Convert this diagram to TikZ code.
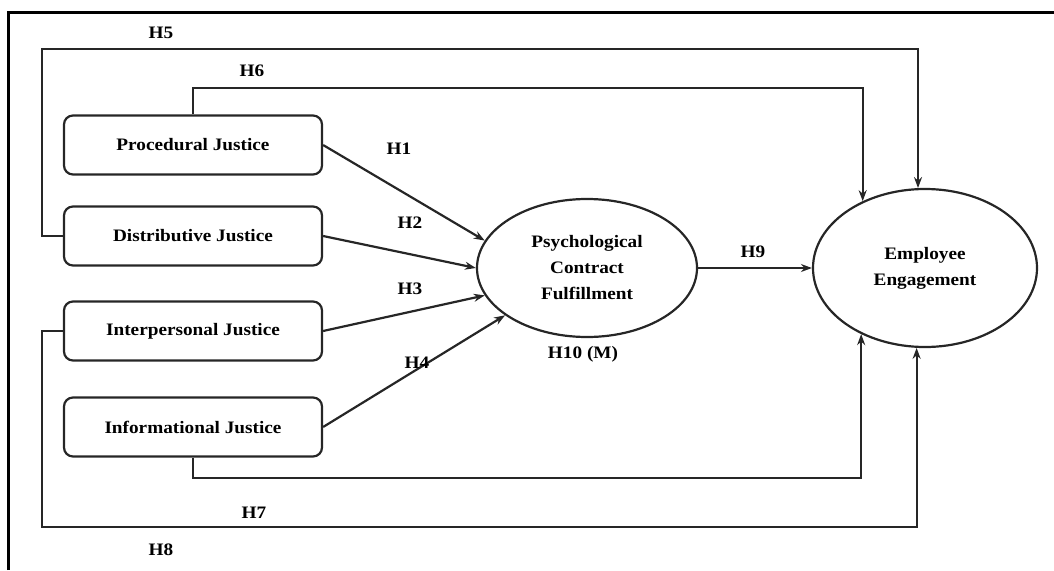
\documentclass[tikz,border=0pt]{standalone}
\usepackage{fontspec}
\setmainfont{Liberation Serif}[FakeStretch=1.1]
\usetikzlibrary{shapes.geometric,arrows.meta}
\begin{document}
\begin{tikzpicture}[x=1pt,y=-1pt,
  font=\fontsize{17.5}{26}\selectfont\bfseries,
  box/.style={draw=black!85, line width=2.2pt, rounded corners=9pt, minimum width=258pt, minimum height=59pt, inner sep=0pt},
  oval/.style={draw=black!85, ellipse, line width=2.2pt, inner sep=0pt, align=center},
  conn/.style={draw=black!85, line width=2.2pt},
  arr/.style={conn, -{Stealth[length=11pt,width=8pt]}},
  lbl/.style={inner sep=0pt}
]
\useasboundingbox (0,0) rectangle (1054,570);
\draw[line width=3pt] (8,570) -- (8,12) -- (1054,12);

\node[box] (pj) at (193,145) {Procedural Justice};
\node[box] (dj) at (193,236) {Distributive Justice};
\node[box] (ipj) at (193,331) {Interpersonal Justice};
\node[box] (ifj) at (193,427) {Informational Justice};

\node[oval, minimum width=220pt, minimum height=138pt] (pcf) at (587,268) {Psychological\\Contract\\Fulfillment};
\node[oval, minimum width=224pt, minimum height=158pt] (ee) at (925,268) {Employee\\Engagement};

\coordinate (h5a) at (42,49);
\coordinate (h6a) at (863,88);
\coordinate (h7a) at (863,478);
\coordinate (h8a) at (42,527);

\draw[arr] (pj.east) -- (pcf.165);
\draw[arr] (dj.east) -- (pcf.west);
\draw[arr] (ipj.east) -- (pcf.195);
\draw[arr] (ifj.east) -- (pcf.210);
\draw[arr] (pcf.east) -- (ee.west);

\draw[arr] (dj.west) -| (h5a) -- (ee.95.8 |- h5a) -- (ee.95.8);
\draw[arr] (pj.north) |- (ee.133.3 |- h6a) -- (ee.133.3);
\draw[arr] (ifj.south) |- (ee.226.7 |- h7a) -- (ee.226.7);
\draw[arr] (ipj.west) -| (h8a) -- (ee.264.2 |- h8a) -- (ee.264.2);

\node[lbl] (l5) at (161,33) {H5};
\node[lbl] (l6) at (252,71) {H6};
\node[lbl] (l1) at (399,149) {H1};
\node[lbl] (l2) at (410,223) {H2};
\node[lbl] (l3) at (410,289) {H3};
\node[lbl] (l4) at (417,363) {H4};
\node[lbl] (l9) at (753,252) {H9};
\node[lbl] (l10) at (583,354) {H10 (M)};
\node[lbl] (l7) at (254,513) {H7};
\node[lbl] (l8) at (161,550) {H8};
\end{tikzpicture}
\end{document}
